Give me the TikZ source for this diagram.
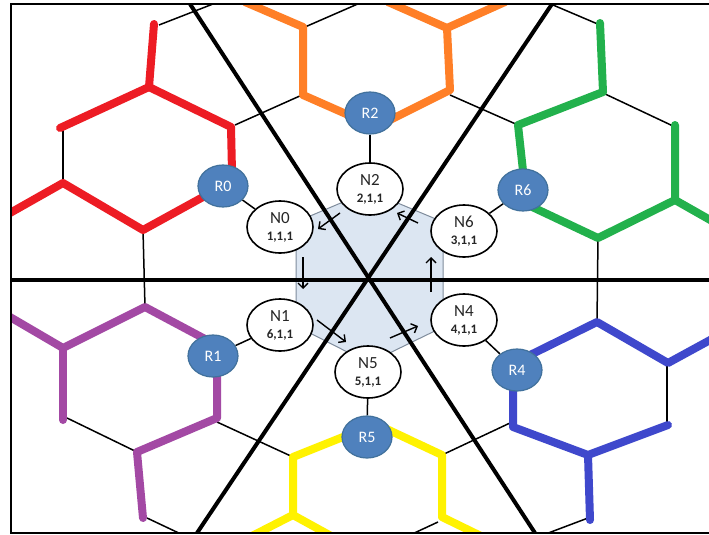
\documentclass[tikz,border=0pt]{standalone}
\usepackage{fontspec}
\setmainfont{Carlito}
\usetikzlibrary{arrows.meta,backgrounds,shapes.geometric}
\definecolor{cred}{HTML}{ED1C24}
\definecolor{corange}{HTML}{FF7F27}
\definecolor{cgreen}{HTML}{22B14C}
\definecolor{cblue}{HTML}{3F48CC}
\definecolor{cpurple}{HTML}{A349A4}
\definecolor{cyellow}{HTML}{FFF200}
\definecolor{rfill}{HTML}{4F81BD}
\definecolor{rdraw}{HTML}{41719C}
\definecolor{hexfill}{HTML}{DCE6F2}
\definecolor{hexdraw}{HTML}{7F8C9C}
\begin{document}
\begin{tikzpicture}[x=1pt,y=-1pt,
  nnode/.style={ellipse, draw=black, line width=1.6pt, fill=white, minimum width=66pt, minimum height=52pt, inner sep=0pt, align=center, font=\fontsize{17}{17}\selectfont, text=black!85},
  rnode/.style={ellipse, draw=rdraw, line width=1.2pt, fill=rfill, minimum width=50pt, minimum height=42pt, inner sep=0pt, text=white, font=\fontsize{16}{16}\selectfont},
  thinl/.style={line width=1.5pt},
  thickl/.style={line width=4pt},
  colline/.style={line width=8pt, line cap=round, line join=round},
  arr/.style={line width=1.4pt, -{Straight Barb[length=5pt,width=10pt]}}
]
\useasboundingbox (0,0) rectangle (709,535);

% nodes
\node[nnode] (N2) at (370,189) {N2\\[0pt]{\bfseries\fontsize{13}{13}\selectfont 2,1,1}};
\node[nnode] (N0) at (280,227) {N0\\[0pt]{\bfseries\fontsize{13}{13}\selectfont 1,1,1}};
\node[nnode] (N6) at (464,231) {N6\\[0pt]{\bfseries\fontsize{13}{13}\selectfont 3,1,1}};
\node[nnode] (N1) at (280,325) {N1\\[0pt]{\bfseries\fontsize{13}{13}\selectfont 6,1,1}};
\node[nnode] (N4) at (464,320) {N4\\[0pt]{\bfseries\fontsize{13}{13}\selectfont 4,1,1}};
\node[nnode] (N5) at (368,372) {N5\\[0pt]{\bfseries\fontsize{13}{13}\selectfont 5,1,1}};

\node[rnode] (R0) at (223,186) {R0};
\node[rnode] (R2) at (370,113) {R2};
\node[rnode] (R6) at (523,190) {R6};
\node[rnode] (R4) at (517,370) {R4};
\node[rnode] (R5) at (367,437) {R5};
\node[rnode] (R1) at (213,356) {R1};

\begin{pgfonlayer}{background}
\fill[white] (0,0) rectangle (709,535);
% central hexagon
\filldraw[fill=hexfill, draw=hexdraw, line width=1pt]
  (369,191) -- (443,222) -- (443,327) -- (369,363) -- (296,326) -- (296,222) -- cycle;

% thin lattice
\draw[thinl] (159,25) -- (213,4);
\draw[thinl] (63,128) -- (63,183);
\draw[thinl] (143,230) -- (145,307);
\draw[thinl] (235,125) -- (302,95);
\draw[thinl] (305,27) -- (360,3);
\draw[thinl] (450,95) -- (518,125);
\draw[thinl] (553,5) -- (600,25);
\draw[thinl] (603,93) -- (673,126);
\draw[thinl] (598,238) -- (597,322);
\draw[thinl] (67,418) -- (137,452);
\draw[thinl] (147,518) -- (183,535);
\draw[thinl] (217,422) -- (293,457);
\draw[thinl] (510,423) -- (442,455);
\draw[thinl] (438,522) -- (410,535);
\draw[thinl] (588,518) -- (543,535);
\draw[thinl] (667,365) -- (667,422);

% R to N links
\draw[thinl] (R0) -- (N0);
\draw[thinl] (R2) -- (N2);
\draw[thinl] (R6) -- (N6);
\draw[thinl] (R4) -- (N4);
\draw[thinl] (R5) -- (N5);
\draw[thinl] (R1) -- (N1);

% coloured paths
\draw[colline, cred] (154,24) -- (149,87) -- (231,127) -- (232,172);
\draw[colline, cred] (149,87) -- (60,128);
\draw[colline, cred] (R0.center) -- (143,230) -- (63,183) -- (10,213);

\draw[colline, corange] (245,2) -- (303,27) -- (303,95) -- (362,121);
\draw[colline, corange] (388,2) -- (447,28) -- (450,90) -- (382,124);
\draw[colline, corange] (447,28) -- (505,2);

\draw[colline, cgreen] (600,23) -- (603,92) -- (518,125) -- (524,180);
\draw[colline, cgreen] (675,125) -- (675,200) -- (598,238) -- (528,205);
\draw[colline, cgreen] (675,200) -- (712,221);

\draw[colline, cblue] (520,360) -- (597,322) -- (668,363) -- (712,339);
\draw[colline, cblue] (513,378) -- (513,427) -- (588,455) -- (668,425);
\draw[colline, cblue] (588,455) -- (590,520);

\draw[colline, cpurple] (10,317) -- (63,348) -- (145,307) -- (205,339);
\draw[colline, cpurple] (63,348) -- (63,420);
\draw[colline, cpurple] (217,368) -- (217,418) -- (137,452) -- (143,518);

\draw[colline, cyellow] (358,431) -- (293,457) -- (293,515) -- (250,537);
\draw[colline, cyellow] (293,515) -- (333,537);
\draw[colline, cyellow] (376,424) -- (442,455) -- (442,517) -- (483,537);

% thick axes
\draw[thickl] (11,280) -- (709,280);
\draw[thickl] (190,4) -- (535,533);
\draw[thickl] (552,4) -- (197,533);

% arrows
\coordinate (a1s) at (340,213); \coordinate (a1e) at (318,229);
\coordinate (a2s) at (303,257); \coordinate (a2e) at (303,289);
\coordinate (a3s) at (317,320); \coordinate (a3e) at (346,342);
\coordinate (a4s) at (390,338); \coordinate (a4e) at (418,326);
\coordinate (a5s) at (431,292); \coordinate (a5e) at (431,257);
\coordinate (a6s) at (418,223); \coordinate (a6e) at (397,213);
\draw[arr] (a1s) -- (a1e);
\draw[arr] (a2s) -- (a2e);
\draw[arr] (a3s) -- (a3e);
\draw[arr] (a4s) -- (a4e);
\draw[arr] (a5s) -- (a5e);
\draw[arr] (a6s) -- (a6e);
\end{pgfonlayer}

% frame
\fill[white] (0,0) rectangle (709,3);
\fill[white] (0,0) rectangle (10,535);
\fill[white] (0,534) rectangle (709,535);
\draw[line width=2.2pt] (709,4) -- (11,4) -- (11,533) -- (709,533);
\end{tikzpicture}
\end{document}
